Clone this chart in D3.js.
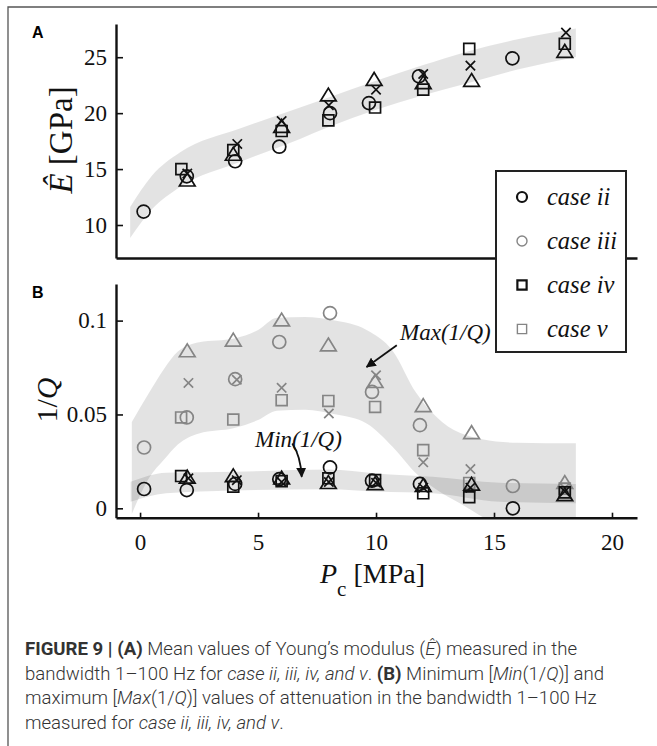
<!DOCTYPE html>
<html>
<head>
<meta charset="utf-8">
<script src="https://cdn.jsdelivr.net/npm/d3@7"></script>
<style>
  body { margin: 0; background: #fff; }
  svg { display: block; }
  .tick text { font-family: "Liberation Serif", serif; font-size: 23px; fill: #111; }
  .serif { font-family: "Liberation Serif", serif; fill: #111; }
  .cap { font-family: Roboto, "Liberation Sans", sans-serif; font-weight: 300; font-size: 18.6px; fill: #333; }
</style>
</head>
<body>
<svg width="657" height="746"></svg>
<script>
// ---- panel A: mean Young's modulus [GPa] vs confining pressure [MPa]
var pcCircleA = [0.15, 1.98, 4.03, 5.9, 8.05, 9.7, 11.82, 15.78],
    eCircleA  = [11.2, 14.35, 15.7, 17.0, 20.0, 20.9, 23.3, 24.9];
var pcSquareA = [1.75, 3.95, 6.0, 7.98, 9.96, 12.0, 13.95, 18.0],
    eSquareA  = [15.0, 16.7, 18.4, 19.35, 20.5, 22.1, 25.75, 26.2];
var pcTriA = [2.0, 3.95, 6.0, 7.98, 9.92, 12.0, 14.05, 18.0],
    eTriA  = [14.0, 16.3, 18.8, 21.6, 23.0, 22.7, 22.9, 25.5];
var pcCrossA = [2.0, 4.12, 6.0, 8.0, 10.0, 12.0, 14.0, 18.05],
    eCrossA  = [14.6, 17.25, 19.3, 20.7, 22.1, 23.5, 24.25, 27.2];

var bandA_pc = [-0.42, 0.5, 1.7, 4.2, 6.78, 8.05, 10, 12, 13.84, 16, 18.47],
    bandA_hi = [11.6, 14.4, 16.5, 18.6, 20.5, 21.45, 22.9, 24.3, 25.5, 26.6, 27.56],
    bandA_lo = [8.84, 11.4, 13.4, 15.6, 17.7, 18.8, 20.3, 21.6, 22.65, 23.9, 25.03];

// ---- panel B: Max(1/Q) (grey) and Min(1/Q) (black)
var pcCircleB = [0.17, 1.98, 4.03, 5.9, 8.05, 9.83, 11.86, 15.8],
    maxCircle = [0.0324, 0.0484, 0.0688, 0.0886, 0.104, 0.062, 0.0443, 0.0119],
    minCircle = [0.0103, 0.0097, 0.013, 0.0155, 0.0218, 0.0147, 0.013, 0.0];
var pcSquareB = [1.74, 3.95, 6.0, 7.98, 9.96, 12.0, 13.95, 18.0],
    maxSquare = [0.0484, 0.0473, 0.0576, 0.0572, 0.054, 0.031, 0.0135, 0.0105],
    minSquare = [0.0172, 0.0115, 0.0145, 0.016, 0.015, 0.008, 0.0059, 0.0085];
var pcTriB = [2.0, 3.95, 6.0, 7.98, 9.96, 12.0, 14.05, 18.0],
    maxTri = [0.0838, 0.0895, 0.1002, 0.0869, 0.0674, 0.0546, 0.0402, 0.0136],
    minTri = [0.0165, 0.0172, 0.016, 0.0136, 0.013, 0.012, 0.0127, 0.0071];
var pcCrossB = [2.05, 4.1, 6.0, 8.0, 10.0, 12.0, 14.0, 18.0],
    maxCross = [0.0668, 0.0685, 0.0642, 0.0505, 0.0709, 0.0245, 0.0209, 0.0108],
    minCross = [0.016, 0.015, 0.014, 0.014, 0.0136, 0.011, 0.011, 0.009];

var maxBand_pc = [-0.35, 0.4, 1.0, 1.6, 2.5, 4.0, 5.0, 5.8, 7.0, 8.2, 9.6, 10.7, 11.7, 12.8, 13.8, 14.5, 16.0, 18.47],
    maxBand_hi = [0.046, 0.062, 0.074, 0.0835, 0.0885, 0.0905, 0.095, 0.1015, 0.1019, 0.1002, 0.095, 0.084, 0.0615, 0.046, 0.039, 0.0368, 0.0349, 0.0346],
    maxBand_lo = [-0.003, 0.0165, 0.0257, 0.034, 0.0399, 0.0428, 0.047, 0.052, 0.0525, 0.0502, 0.0452, 0.0328, 0.0186, 0.008, 0.0009, -0.0045, -0.01, -0.01];
var minBand_pc = [-0.4, 1.1, 4, 8, 10, 12.4, 15.25, 18.47],
    minBand_hi = [0.0141, 0.019, 0.0195, 0.0207, 0.0186, 0.0168, 0.0136, 0.013],
    minBand_lo = [0.0035, 0.008, 0.0095, 0.0101, 0.0089, 0.008, 0.0035, 0.0027];

var xTicks = [0, 5, 10, 15, 20],
    yTicksA = [10, 15, 20, 25],
    yTicksB = [0, 0.05, 0.1];

var legendLabels = ["case ii", "case iii", "case iv", "case v"];

var svg = d3.select("svg");
var black = "#111", grey = "#858585";

var x = d3.scaleLinear().domain([-1.02, 21.06]).range([116, 637]);
var yA = d3.scaleLinear().domain([7.05, 27.97]).range([258, 24]);
var yB = d3.scaleLinear().domain([-0.005, 0.1195]).range([517.7, 284]);

// frame
svg.append("path").attr("d", "M8,746V7H657")
    .attr("fill", "none").attr("stroke", "#555").attr("stroke-width", 1.3);

function zip(a, b) { return a.map(function(v, i) { return [v, b[i]]; }); }

function marker(type, s) {
  var h;
  if (type == "circle") return d3.arc()({innerRadius: 0, outerRadius: s / 2, startAngle: 0, endAngle: 2 * Math.PI});
  if (type == "square") { h = s * 0.42; return "M" + -h + "," + -h + "H" + h + "V" + h + "H" + -h + "Z"; }
  if (type == "triangle") { h = s * 0.55; return "M0," + (-h) + "L" + (h * 1.1) + "," + (h * 0.8) + "H" + (-h * 1.1) + "Z"; }
  h = s * 0.36; return "M" + -h + "," + -h + "L" + h + "," + h + "M" + h + "," + -h + "L" + -h + "," + h;
}

function points(g, y, pcs, vals, type, color) {
  g.append("g").selectAll("path")
    .data(zip(pcs, vals))
    .enter().append("path")
      .attr("transform", function(d) { return "translate(" + x(d[0]) + "," + y(d[1]) + ")"; })
      .attr("d", marker(type, 13))
      .attr("fill", "none")
      .attr("stroke", color)
      .attr("stroke-width", 1.7);
}

function band(g, y, pcs, lo, hi) {
  var area = d3.area()
      .x(function(d) { return x(d[0]); })
      .y0(function(d) { return y(d[1]); })
      .y1(function(d) { return y(d[2]); })
      .curve(d3.curveMonotoneX);
  g.append("path")
    .datum(pcs.map(function(p, i) { return [p, lo[i], hi[i]]; }))
    .attr("d", area)
    .attr("fill", "#000")
    .attr("fill-opacity", 0.11);
}

function styleAxis(g) {
  g.select(".domain").attr("stroke", black).attr("stroke-width", 2.4);
  g.selectAll(".tick line").attr("stroke", black).attr("stroke-width", 1.6);
}

// ---------- panel A
var gA = svg.append("g");
band(gA, yA, bandA_pc, bandA_lo, bandA_hi);
points(gA, yA, pcCircleA, eCircleA, "circle", black);
points(gA, yA, pcSquareA, eSquareA, "square", black);
points(gA, yA, pcTriA, eTriA, "triangle", black);
points(gA, yA, pcCrossA, eCrossA, "cross", black);

gA.append("g").attr("transform", "translate(0,258)")
    .call(d3.axisBottom(x).tickValues([]).tickSizeOuter(0))
    .call(styleAxis);
gA.append("g").attr("transform", "translate(116,0)")
    .call(d3.axisLeft(yA).tickValues(yTicksA).tickSize(-7).tickSizeOuter(0).tickPadding(9))
    .call(styleAxis);

gA.append("text").attr("class", "serif")
    .attr("transform", "translate(72,140) rotate(-90)")
    .attr("text-anchor", "middle").style("font-size", "33px")
    .html('<tspan font-style="italic">Ê</tspan> [GPa]');

// ---------- panel B
svg.append("clipPath").attr("id", "clipB")
  .append("rect").attr("x", 116).attr("y", 280).attr("width", 525).attr("height", 237.7);
var gB = svg.append("g");
var bands = gB.append("g").attr("clip-path", "url(#clipB)");
band(bands, yB, maxBand_pc, maxBand_lo, maxBand_hi);
band(bands, yB, minBand_pc, minBand_lo, minBand_hi);

points(gB, yB, pcCircleB, maxCircle, "circle", grey);
points(gB, yB, pcSquareB, maxSquare, "square", grey);
points(gB, yB, pcTriB, maxTri, "triangle", grey);
points(gB, yB, pcCrossB, maxCross, "cross", grey);
points(gB, yB, pcCircleB, minCircle, "circle", black);
points(gB, yB, pcSquareB, minSquare, "square", black);
points(gB, yB, pcTriB, minTri, "triangle", black);
points(gB, yB, pcCrossB, minCross, "cross", black);

gB.append("g").attr("transform", "translate(0,517.7)")
    .call(d3.axisBottom(x).tickValues(xTicks).tickSize(-5).tickSizeOuter(0).tickPadding(16))
    .call(styleAxis);
gB.append("g").attr("transform", "translate(116,0)")
    .call(d3.axisLeft(yB).tickValues(yTicksB).tickFormat(d3.format("~g")).tickSize(-7).tickSizeOuter(0).tickPadding(9))
    .call(styleAxis);

gB.append("text").attr("class", "serif")
    .attr("transform", "translate(57,400) rotate(-90)")
    .attr("text-anchor", "middle").style("font-size", "30px")
    .html('1/<tspan font-style="italic">Q</tspan>');

// x label
svg.append("text").attr("class", "serif")
    .attr("x", 320).attr("y", 583).style("font-size", "28px")
    .html('<tspan font-style="italic">P</tspan><tspan dy="13" font-size="21px">c</tspan><tspan dy="-13"> [MPa]</tspan>');

// annotations
svg.append("defs").append("marker")
    .attr("id", "arr").attr("viewBox", "0 0 10 10").attr("refX", 9).attr("refY", 5)
    .attr("markerWidth", 10).attr("markerHeight", 10).attr("markerUnits", "userSpaceOnUse")
    .attr("orient", "auto")
  .append("path").attr("d", "M0,0L10,5L0,10Z").attr("fill", black);

svg.append("text").attr("class", "serif")
    .attr("x", x(11.02)).attr("y", yB(0.0895))
    .style("font-size", "23px").style("font-style", "italic").text("Max(1/Q)");
svg.append("line")
    .attr("x1", x(10.88)).attr("y1", yB(0.0869)).attr("x2", x(9.6)).attr("y2", yB(0.0753))
    .attr("stroke", black).attr("stroke-width", 1.8).attr("marker-end", "url(#arr)");

svg.append("text").attr("class", "serif")
    .attr("x", x(4.87)).attr("y", yB(0.0328))
    .style("font-size", "23px").style("font-style", "italic").text("Min(1/Q)");
svg.append("path")
    .attr("d", "M" + x(6.45) + "," + yB(0.0345) + "Q" + x(6.8) + "," + yB(0.028) + " " + x(6.85) + "," + yB(0.0168))
    .attr("fill", "none").attr("stroke", black).attr("stroke-width", 1.8).attr("marker-end", "url(#arr)");

// legend
var lg = svg.append("g").attr("transform", "translate(496,171)");
lg.append("rect").attr("width", 130).attr("height", 181)
    .attr("fill", "#fff").attr("stroke", "#222").attr("stroke-width", 2);
var legendTypes = ["circle", "circle", "square", "square"],
    legendColors = [black, grey, black, grey];
var row = lg.selectAll("g.row").data(legendLabels).enter().append("g")
    .attr("transform", function(d, i) { return "translate(0," + (26 + i * 44) + ")"; });
row.append("path")
    .attr("transform", "translate(26,0)")
    .attr("d", function(d, i) { return marker(legendTypes[i], legendTypes[i] == "circle" ? 10 : 11); })
    .attr("fill", "none")
    .attr("stroke", function(d, i) { return legendColors[i]; })
    .attr("stroke-width", function(d, i) { return i % 2 ? 1.4 : 2.2; });
row.append("text").attr("class", "serif")
    .attr("x", 51).attr("y", 8)
    .style("font-size", "24.5px").style("font-style", "italic")
    .text(function(d) { return d; });

// panel letters
svg.append("text").attr("x", 32).attr("y", 38)
    .style("font-family", "Liberation Sans, sans-serif").style("font-weight", "bold").style("font-size", "16px")
    .text("A");
svg.append("text").attr("x", 32).attr("y", 298)
    .style("font-family", "Liberation Sans, sans-serif").style("font-weight", "bold").style("font-size", "16px")
    .text("B");

// caption
var captionLines = [
  '<tspan font-weight="bold">FIGURE 9 | (A)</tspan> Mean values of Young’s modulus (<tspan font-style="italic">Ê</tspan>) measured in the',
  'bandwidth 1–100 Hz for <tspan font-style="italic">case ii, iii, iv, and v</tspan>. <tspan font-weight="bold">(B)</tspan> Minimum [<tspan font-style="italic">Min</tspan>(1/<tspan font-style="italic">Q</tspan>)] and',
  'maximum [<tspan font-style="italic">Max</tspan>(1/<tspan font-style="italic">Q</tspan>)] values of attenuation in the bandwidth 1–100 Hz',
  'measured for <tspan font-style="italic">case ii, iii, iv, and v</tspan>.'
];
svg.selectAll("text.cap").data(captionLines).enter().append("text")
    .attr("class", "cap")
    .attr("x", 25)
    .attr("y", function(d, i) { return 655 + i * 24.6; })
    .html(function(d) { return d; });
</script>
</body>
</html>
